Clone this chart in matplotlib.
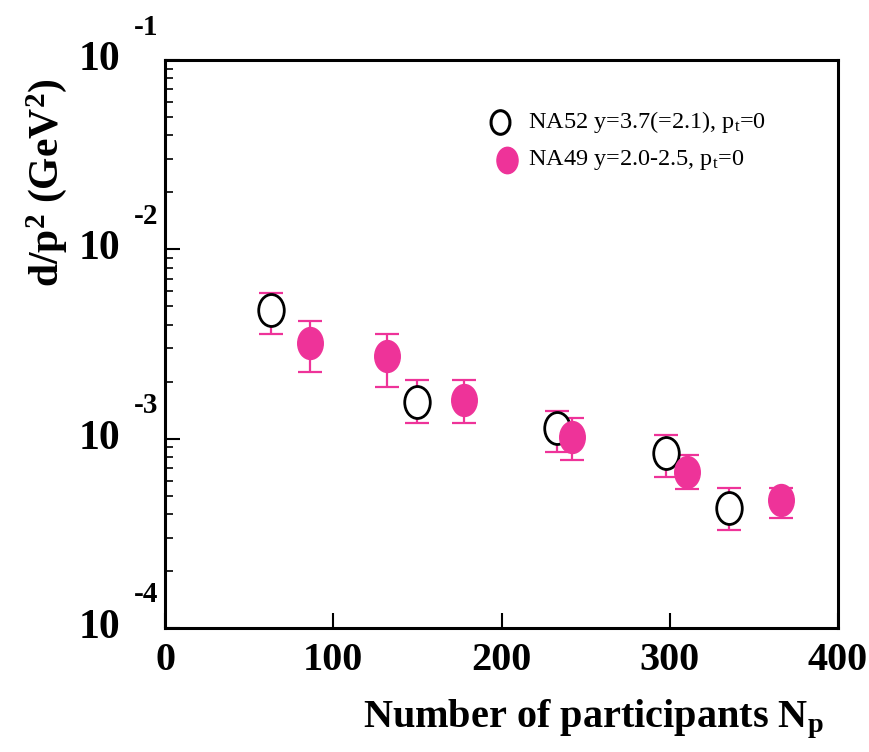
import numpy as np
import matplotlib
matplotlib.use("Agg")
import matplotlib.pyplot as plt
from matplotlib.path import Path
from matplotlib.transforms import Affine2D
from matplotlib.ticker import LogLocator, NullFormatter

# NA52 (open circles)
na52_np = [63, 150, 233, 298, 335]
na52_val = [4.8e-3, 1.56e-3, 1.14e-3, 8.4e-4, 4.3e-4]
na52_hi = [5.87e-3, 2.04e-3, 1.40e-3, 1.05e-3, 5.5e-4]
na52_lo = [3.57e-3, 1.21e-3, 8.5e-4, 6.3e-4, 3.3e-4]

# NA49 (filled pink)
na49_np = [86, 132, 178, 242, 310, 366]
na49_val = [3.2e-3, 2.73e-3, 1.60e-3, 1.02e-3, 6.67e-4, 4.74e-4]
na49_hi = [4.18e-3, 3.57e-3, 2.04e-3, 1.29e-3, 8.2e-4, 5.5e-4]
na49_lo = [2.25e-3, 1.87e-3, 1.21e-3, 7.7e-4, 5.4e-4, 3.8e-4]

xticks = [0, 100, 200, 300, 400]
ydecades = [-1, -2, -3, -4]

pink = '#ee3399'
plt.rcParams['font.family'] = ['Liberation Serif', 'DejaVu Serif']
plt.rcParams['mathtext.fontset'] = 'custom'
plt.rcParams['mathtext.rm'] = 'Liberation Serif'
plt.rcParams['mathtext.it'] = 'Liberation Serif:italic'
plt.rcParams['mathtext.bf'] = 'Liberation Serif:bold'

# slightly tall ellipse, like the scanned markers
ellipse = Path.unit_circle().transformed(Affine2D().scale(1.0, 1.25))

fig = plt.figure(figsize=(8.7, 7.52), dpi=100)
ax = fig.add_axes([0.1897, 0.1649, 0.7735, 0.7553])

def errs(val, lo, hi):
    v = np.array(val)
    return [v - np.array(lo), np.array(hi) - v]

ax.errorbar(na52_np, na52_val, yerr=errs(na52_val, na52_lo, na52_hi), fmt='none',
            ecolor=pink, elinewidth=1.6, capsize=8.5, capthick=1.6, zorder=2)
ax.errorbar(na49_np, na49_val, yerr=errs(na49_val, na49_lo, na49_hi), fmt='none',
            ecolor=pink, elinewidth=1.6, capsize=8.5, capthick=1.6, zorder=2)
ax.plot(na52_np, na52_val, ls='none', marker=ellipse, ms=23, mfc='white',
        mec='black', mew=2.0, zorder=3)
ax.plot(na49_np, na49_val, ls='none', marker=ellipse, ms=23, mfc=pink,
        mec=pink, mew=1.0, zorder=3)

ax.set_yscale('log')
ax.set_xlim(0, 400)
ax.set_ylim(1e-4, 1e-1)

for s in ax.spines.values():
    s.set_linewidth(2.2)

ax.set_xticks(xticks)
ax.set_xticklabels([str(t) for t in xticks], fontsize=29, fontweight='bold')
ax.tick_params(axis='x', direction='in', length=11, width=1.5, pad=10,
               top=False)
ax.yaxis.set_major_locator(LogLocator(base=10, numticks=10))
ax.yaxis.set_minor_locator(LogLocator(base=10, subs=np.arange(2, 10), numticks=10))
ax.yaxis.set_minor_formatter(NullFormatter())
ax.set_yticklabels([])
ax.tick_params(axis='y', which='major', direction='in', length=11, width=1.5,
               right=False, labelleft=False)
ax.tick_params(axis='y', which='minor', direction='in', length=6, width=1.2,
               right=False)

# y tick labels as "10" with the exponent up and to the right
for d in ydecades:
    ax.annotate('10', xy=(0, 10.0 ** d), xycoords=('axes fraction', 'data'),
                xytext=(-45, 0), textcoords='offset pixels', ha='right',
                va='center', fontsize=30, fontweight='bold')
    ax.annotate(str(d), xy=(0, 10.0 ** d), xycoords=('axes fraction', 'data'),
                xytext=(-31, 33), textcoords='offset pixels', ha='left',
                va='center', fontsize=21, fontweight='bold')

fig.text(0.053, 0.757, r'd/p$^{\mathbf{2}}$ (GeV$^{\mathbf{2}}$)', rotation=90,
         ha='center', va='center', fontsize=30, fontweight='bold')
fig.text(0.947, 0.043, r'Number of participants N$_{\mathbf{p}}$', ha='right',
         va='center', fontsize=29, fontweight='bold')

# legend
ax.plot([0.498], [0.891], transform=ax.transAxes, ls='none', marker=ellipse,
        ms=17, mfc='white', mec='black', mew=2.2, clip_on=False)
ax.plot([0.508], [0.824], transform=ax.transAxes, ls='none', marker=ellipse,
        ms=19, mfc=pink, mec=pink, clip_on=False)
ax.text(0.539, 0.891, r'NA52 y=3.7(=2.1), p$_{\rm t}$=0', transform=ax.transAxes,
        fontsize=17.5, va='center', ha='left')
ax.text(0.539, 0.824, r'NA49 y=2.0-2.5, p$_{\rm t}$=0', transform=ax.transAxes,
        fontsize=17.5, va='center', ha='left')

fig.savefig('out.png', dpi=100)
